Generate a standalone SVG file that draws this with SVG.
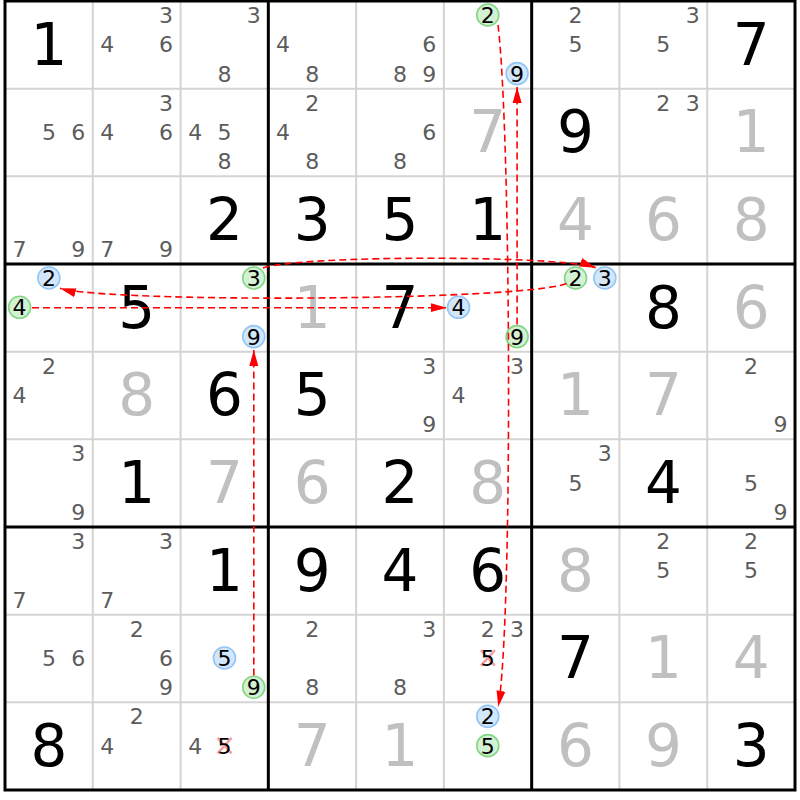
<svg xmlns="http://www.w3.org/2000/svg" width="800" height="800" viewBox="0 0 800 800">
<defs>
<style>
text{font-family:"DejaVu Sans","Liberation Sans",sans-serif;text-anchor:middle}
.g{font-size:58px;fill:#000}
.s{font-size:58px;fill:#c0c0c0}
.c{font-size:22px;fill:#5c5c5c}
.k{font-size:22px;fill:#000}
.cb{fill:#d3e7fb;stroke:#92c5f6;stroke-width:1.6}
.cg{fill:#d3f1d3;stroke:#84d684;stroke-width:1.6}
.x{stroke:#f4a0a0;stroke-width:2.5}
.thin{stroke:#d4d4d4;stroke-width:2}
.thick{stroke:#000;stroke-width:3;fill:none}
.lk{fill:none;stroke:#f00;stroke-width:1.6;stroke-dasharray:7 4;marker-end:url(#ah)}
</style>
<marker id="ah" markerUnits="userSpaceOnUse" markerWidth="16" markerHeight="10" refX="16" refY="5" orient="auto"><path d="M0,0.5 L16,5 L0,9.5 z" fill="#f00"/></marker>
</defs>
<rect width="800" height="800" fill="#fff"/>
<g id="grid">
<g class="thin">
<line x1="92.78" y1="1" x2="92.78" y2="790"/><line x1="180.56" y1="1" x2="180.56" y2="790"/>
<line x1="356.11" y1="1" x2="356.11" y2="790"/><line x1="443.89" y1="1" x2="443.89" y2="790"/>
<line x1="619.44" y1="1" x2="619.44" y2="790"/><line x1="707.22" y1="1" x2="707.22" y2="790"/>
<line x1="5" y1="88.67" x2="795" y2="88.67"/><line x1="5" y1="176.33" x2="795" y2="176.33"/>
<line x1="5" y1="351.67" x2="795" y2="351.67"/><line x1="5" y1="439.33" x2="795" y2="439.33"/>
<line x1="5" y1="614.67" x2="795" y2="614.67"/><line x1="5" y1="702.33" x2="795" y2="702.33"/>
</g>
<g class="thick">
<line x1="268.33" y1="1" x2="268.33" y2="790"/><line x1="531.67" y1="1" x2="531.67" y2="790"/>
<line x1="5" y1="264" x2="795" y2="264"/><line x1="5" y1="527" x2="795" y2="527"/>
<rect x="5" y="1" width="790" height="789"/>
</g>
</g>
<g id="cells">
<!-- row 0 -->
<g id="r0c0" transform="translate(5,1)"><text class="g" x="43.9" y="63.5">1</text></g>
<g id="r0c1" transform="translate(92.78,1)"><text class="c" x="73.2" y="22">3</text><text class="c" x="14.6" y="51.3">4</text><text class="c" x="73.2" y="51.3">6</text></g>
<g id="r0c2" transform="translate(180.56,1)"><text class="c" x="73.2" y="22">3</text><text class="c" x="43.9" y="80.6">8</text></g>
<g id="r0c3" transform="translate(268.33,1)"><text class="c" x="14.6" y="51.3">4</text><text class="c" x="43.9" y="80.6">8</text></g>
<g id="r0c4" transform="translate(356.11,1)"><text class="c" x="73.2" y="51.3">6</text><text class="c" x="43.9" y="80.6">8</text><text class="c" x="73.2" y="80.6">9</text></g>
<g id="r0c5" transform="translate(443.89,1)"><circle class="cg" cx="43.9" cy="14" r="11"/><text class="k" x="43.9" y="22">2</text><circle class="cb" cx="73.2" cy="72.6" r="11"/><text class="k" x="73.2" y="80.6">9</text></g>
<g id="r0c6" transform="translate(531.67,1)"><text class="c" x="43.9" y="22">2</text><text class="c" x="43.9" y="51.3">5</text></g>
<g id="r0c7" transform="translate(619.44,1)"><text class="c" x="73.2" y="22">3</text><text class="c" x="43.9" y="51.3">5</text></g>
<g id="r0c8" transform="translate(707.22,1)"><text class="g" x="43.9" y="63.5">7</text></g>
<!-- row 1 -->
<g id="r1c0" transform="translate(5,88.67)"><text class="c" x="43.9" y="51.3">5</text><text class="c" x="73.2" y="51.3">6</text></g>
<g id="r1c1" transform="translate(92.78,88.67)"><text class="c" x="73.2" y="22">3</text><text class="c" x="14.6" y="51.3">4</text><text class="c" x="73.2" y="51.3">6</text></g>
<g id="r1c2" transform="translate(180.56,88.67)"><text class="c" x="14.6" y="51.3">4</text><text class="c" x="43.9" y="51.3">5</text><text class="c" x="43.9" y="80.6">8</text></g>
<g id="r1c3" transform="translate(268.33,88.67)"><text class="c" x="43.9" y="22">2</text><text class="c" x="14.6" y="51.3">4</text><text class="c" x="43.9" y="80.6">8</text></g>
<g id="r1c4" transform="translate(356.11,88.67)"><text class="c" x="73.2" y="51.3">6</text><text class="c" x="43.9" y="80.6">8</text></g>
<g id="r1c5" transform="translate(443.89,88.67)"><text class="s" x="43.9" y="63.5">7</text></g>
<g id="r1c6" transform="translate(531.67,88.67)"><text class="g" x="43.9" y="63.5">9</text></g>
<g id="r1c7" transform="translate(619.44,88.67)"><text class="c" x="43.9" y="22">2</text><text class="c" x="73.2" y="22">3</text></g>
<g id="r1c8" transform="translate(707.22,88.67)"><text class="s" x="43.9" y="63.5">1</text></g>
<!-- row 2 -->
<g id="r2c0" transform="translate(5,176.33)"><text class="c" x="14.6" y="80.6">7</text><text class="c" x="73.2" y="80.6">9</text></g>
<g id="r2c1" transform="translate(92.78,176.33)"><text class="c" x="14.6" y="80.6">7</text><text class="c" x="73.2" y="80.6">9</text></g>
<g id="r2c2" transform="translate(180.56,176.33)"><text class="g" x="43.9" y="63.5">2</text></g>
<g id="r2c3" transform="translate(268.33,176.33)"><text class="g" x="43.9" y="63.5">3</text></g>
<g id="r2c4" transform="translate(356.11,176.33)"><text class="g" x="43.9" y="63.5">5</text></g>
<g id="r2c5" transform="translate(443.89,176.33)"><text class="g" x="43.9" y="63.5">1</text></g>
<g id="r2c6" transform="translate(531.67,176.33)"><text class="s" x="43.9" y="63.5">4</text></g>
<g id="r2c7" transform="translate(619.44,176.33)"><text class="s" x="43.9" y="63.5">6</text></g>
<g id="r2c8" transform="translate(707.22,176.33)"><text class="s" x="43.9" y="63.5">8</text></g>
<!-- row 3 -->
<g id="r3c0" transform="translate(5,264)"><circle class="cb" cx="43.9" cy="14" r="11"/><text class="k" x="43.9" y="22">2</text><circle class="cg" cx="14.6" cy="43.3" r="11"/><text class="k" x="14.6" y="51.3">4</text></g>
<g id="r3c1" transform="translate(92.78,264)"><text class="g" x="43.9" y="63.5">5</text></g>
<g id="r3c2" transform="translate(180.56,264)"><circle class="cg" cx="73.2" cy="14" r="11"/><text class="k" x="73.2" y="22">3</text><circle class="cb" cx="73.2" cy="72.6" r="11"/><text class="k" x="73.2" y="80.6">9</text></g>
<g id="r3c3" transform="translate(268.33,264)"><text class="s" x="43.9" y="63.5">1</text></g>
<g id="r3c4" transform="translate(356.11,264)"><text class="g" x="43.9" y="63.5">7</text></g>
<g id="r3c5" transform="translate(443.89,264)"><circle class="cb" cx="14.6" cy="43.3" r="11"/><text class="k" x="14.6" y="51.3">4</text><circle class="cg" cx="73.2" cy="72.6" r="11"/><text class="k" x="73.2" y="80.6">9</text></g>
<g id="r3c6" transform="translate(531.67,264)"><circle class="cg" cx="43.9" cy="14" r="11"/><text class="k" x="43.9" y="22">2</text><circle class="cb" cx="73.2" cy="14" r="11"/><text class="k" x="73.2" y="22">3</text></g>
<g id="r3c7" transform="translate(619.44,264)"><text class="g" x="43.9" y="63.5">8</text></g>
<g id="r3c8" transform="translate(707.22,264)"><text class="s" x="43.9" y="63.5">6</text></g>
<!-- row 4 -->
<g id="r4c0" transform="translate(5,351.67)"><text class="c" x="43.9" y="22">2</text><text class="c" x="14.6" y="51.3">4</text></g>
<g id="r4c1" transform="translate(92.78,351.67)"><text class="s" x="43.9" y="63.5">8</text></g>
<g id="r4c2" transform="translate(180.56,351.67)"><text class="g" x="43.9" y="63.5">6</text></g>
<g id="r4c3" transform="translate(268.33,351.67)"><text class="g" x="43.9" y="63.5">5</text></g>
<g id="r4c4" transform="translate(356.11,351.67)"><text class="c" x="73.2" y="22">3</text><text class="c" x="73.2" y="80.6">9</text></g>
<g id="r4c5" transform="translate(443.89,351.67)"><text class="c" x="73.2" y="22">3</text><text class="c" x="14.6" y="51.3">4</text></g>
<g id="r4c6" transform="translate(531.67,351.67)"><text class="s" x="43.9" y="63.5">1</text></g>
<g id="r4c7" transform="translate(619.44,351.67)"><text class="s" x="43.9" y="63.5">7</text></g>
<g id="r4c8" transform="translate(707.22,351.67)"><text class="c" x="43.9" y="22">2</text><text class="c" x="73.2" y="80.6">9</text></g>
<!-- row 5 -->
<g id="r5c0" transform="translate(5,439.33)"><text class="c" x="73.2" y="22">3</text><text class="c" x="73.2" y="80.6">9</text></g>
<g id="r5c1" transform="translate(92.78,439.33)"><text class="g" x="43.9" y="63.5">1</text></g>
<g id="r5c2" transform="translate(180.56,439.33)"><text class="s" x="43.9" y="63.5">7</text></g>
<g id="r5c3" transform="translate(268.33,439.33)"><text class="s" x="43.9" y="63.5">6</text></g>
<g id="r5c4" transform="translate(356.11,439.33)"><text class="g" x="43.9" y="63.5">2</text></g>
<g id="r5c5" transform="translate(443.89,439.33)"><text class="s" x="43.9" y="63.5">8</text></g>
<g id="r5c6" transform="translate(531.67,439.33)"><text class="c" x="73.2" y="22">3</text><text class="c" x="43.9" y="51.3">5</text></g>
<g id="r5c7" transform="translate(619.44,439.33)"><text class="g" x="43.9" y="63.5">4</text></g>
<g id="r5c8" transform="translate(707.22,439.33)"><text class="c" x="43.9" y="51.3">5</text><text class="c" x="73.2" y="80.6">9</text></g>
<!-- row 6 -->
<g id="r6c0" transform="translate(5,527)"><text class="c" x="73.2" y="22">3</text><text class="c" x="14.6" y="80.6">7</text></g>
<g id="r6c1" transform="translate(92.78,527)"><text class="c" x="73.2" y="22">3</text><text class="c" x="14.6" y="80.6">7</text></g>
<g id="r6c2" transform="translate(180.56,527)"><text class="g" x="43.9" y="63.5">1</text></g>
<g id="r6c3" transform="translate(268.33,527)"><text class="g" x="43.9" y="63.5">9</text></g>
<g id="r6c4" transform="translate(356.11,527)"><text class="g" x="43.9" y="63.5">4</text></g>
<g id="r6c5" transform="translate(443.89,527)"><text class="g" x="43.9" y="63.5">6</text></g>
<g id="r6c6" transform="translate(531.67,527)"><text class="s" x="43.9" y="63.5">8</text></g>
<g id="r6c7" transform="translate(619.44,527)"><text class="c" x="43.9" y="22">2</text><text class="c" x="43.9" y="51.3">5</text></g>
<g id="r6c8" transform="translate(707.22,527)"><text class="c" x="43.9" y="22">2</text><text class="c" x="43.9" y="51.3">5</text></g>
<!-- row 7 -->
<g id="r7c0" transform="translate(5,614.67)"><text class="c" x="43.9" y="51.3">5</text><text class="c" x="73.2" y="51.3">6</text></g>
<g id="r7c1" transform="translate(92.78,614.67)"><text class="c" x="43.9" y="22">2</text><text class="c" x="73.2" y="51.3">6</text><text class="c" x="73.2" y="80.6">9</text></g>
<g id="r7c2" transform="translate(180.56,614.67)"><circle class="cb" cx="43.9" cy="43.3" r="11"/><text class="k" x="43.9" y="51.3">5</text><circle class="cg" cx="73.2" cy="72.6" r="11"/><text class="k" x="73.2" y="80.6">9</text></g>
<g id="r7c3" transform="translate(268.33,614.67)"><text class="c" x="43.9" y="22">2</text><text class="c" x="43.9" y="80.6">8</text></g>
<g id="r7c4" transform="translate(356.11,614.67)"><text class="c" x="73.2" y="22">3</text><text class="c" x="43.9" y="80.6">8</text></g>
<g id="r7c5" transform="translate(443.89,614.67)"><text class="c" x="43.9" y="22">2</text><text class="c" x="73.2" y="22">3</text><path class="x" d="M37,35.5 L51,51 M51,35.5 L37,51"/><text class="k" x="43.9" y="51.3">5</text></g>
<g id="r7c6" transform="translate(531.67,614.67)"><text class="g" x="43.9" y="63.5">7</text></g>
<g id="r7c7" transform="translate(619.44,614.67)"><text class="s" x="43.9" y="63.5">1</text></g>
<g id="r7c8" transform="translate(707.22,614.67)"><text class="s" x="43.9" y="63.5">4</text></g>
<!-- row 8 -->
<g id="r8c0" transform="translate(5,702.33)"><text class="g" x="43.9" y="63.5">8</text></g>
<g id="r8c1" transform="translate(92.78,702.33)"><text class="c" x="43.9" y="22">2</text><text class="c" x="14.6" y="51.3">4</text></g>
<g id="r8c2" transform="translate(180.56,702.33)"><text class="c" x="14.6" y="51.3">4</text><path class="x" d="M37,35.5 L51,51 M51,35.5 L37,51"/><text class="k" x="43.9" y="51.3">5</text></g>
<g id="r8c3" transform="translate(268.33,702.33)"><text class="s" x="43.9" y="63.5">7</text></g>
<g id="r8c4" transform="translate(356.11,702.33)"><text class="s" x="43.9" y="63.5">1</text></g>
<g id="r8c5" transform="translate(443.89,702.33)"><circle class="cb" cx="43.9" cy="14" r="11"/><text class="k" x="43.9" y="22">2</text><circle class="cg" cx="43.9" cy="43.3" r="11"/><text class="k" x="43.9" y="51.3">5</text></g>
<g id="r8c6" transform="translate(531.67,702.33)"><text class="s" x="43.9" y="63.5">6</text></g>
<g id="r8c7" transform="translate(619.44,702.33)"><text class="s" x="43.9" y="63.5">9</text></g>
<g id="r8c8" transform="translate(707.22,702.33)"><text class="g" x="43.9" y="63.5">3</text></g>
</g>
<g id="connectors">
<path class="lk" d="M498,25 C511,130 513,620 498.3,706.7"/>
<path class="lk" d="M253.8,675.5 L253.8,350"/>
<path class="lk" d="M517.1,324.5 L517.1,87"/>
<path class="lk" d="M263,268 C300,255 560,255 595.7,267.7"/>
<path class="lk" d="M566.5,283.5 C522,301 110,303 60,288.3"/>
<path class="lk" d="M32,307.7 L446.7,307.7"/>
</g>
</svg>
